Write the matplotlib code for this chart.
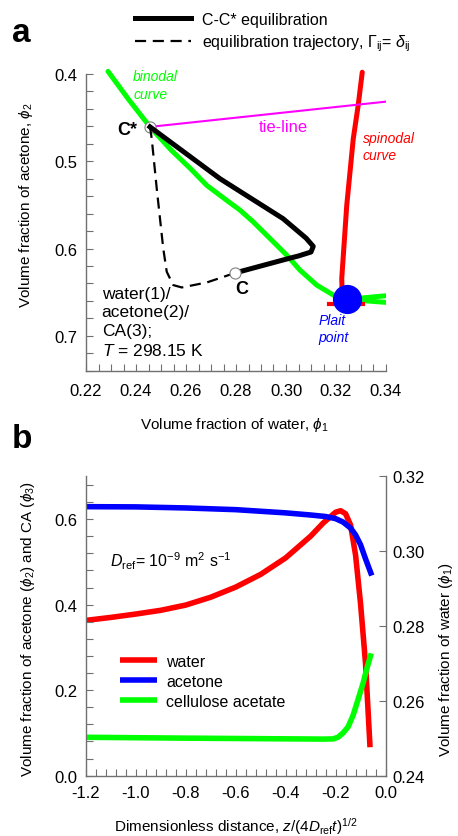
import matplotlib
matplotlib.use("Agg")
import matplotlib.pyplot as plt
from matplotlib.ticker import MultipleLocator

plt.rcParams['font.family'] = ['Liberation Sans', 'DejaVu Sans']
plt.rcParams['mathtext.fontset'] = 'custom'
plt.rcParams['mathtext.rm'] = 'Liberation Sans'
plt.rcParams['mathtext.it'] = 'Liberation Sans:italic'
plt.rcParams['mathtext.bf'] = 'Liberation Sans:bold'

# ---------------- panel a: ternary phase diagram (water / acetone) ----------------
binodal_x = [0.2288, 0.2369, 0.2456, 0.2540, 0.2620, 0.2683, 0.2763, 0.2816,
             0.2869, 0.2923, 0.3003, 0.3056, 0.3123, 0.3189, 0.3243]
binodal_y = [0.397, 0.4286, 0.4606, 0.4870, 0.5090, 0.5276, 0.5448, 0.5560,
             0.5695, 0.5848, 0.6076, 0.6248, 0.6419, 0.6533, 0.6583]
binodal_up_x = [0.3243, 0.3400]
binodal_up_y = [0.6583, 0.6541]
binodal_lo_x = [0.3243, 0.3400]
binodal_lo_y = [0.6583, 0.6617]

spinodal_x = [0.3305, 0.3289, 0.3269, 0.3243, 0.3223, 0.3225]
spinodal_y = [0.398, 0.4354, 0.4743, 0.5505, 0.6343, 0.6560]
spinodal_foot_x = [0.3172, 0.3308]
spinodal_foot_y = [0.6640, 0.6640]

tieline_x = [0.2456, 0.3399]
tieline_y = [0.4606, 0.4317]

equil_x = [0.2456, 0.2736, 0.2988, 0.3080, 0.3109, 0.3100, 0.3050, 0.3016, 0.2796]
equil_y = [0.4606, 0.5200, 0.5657, 0.5880, 0.5975, 0.6040, 0.6085, 0.6110, 0.6280]

traj_x = [0.2456, 0.2463, 0.2483, 0.2509, 0.2523, 0.2549, 0.2583, 0.2683, 0.2796]
traj_y = [0.4606, 0.4743, 0.5314, 0.6000, 0.6267, 0.6419, 0.6446, 0.6389, 0.6280]

c_star = (0.2456, 0.4606)
c_point = (0.2796, 0.6280)
plait = (0.3243, 0.6583)

# ---------------- panel b: composition profiles ----------------
water_z = [-1.2, -1.1, -1.0, -0.9, -0.8, -0.7, -0.6, -0.5, -0.4, -0.3, -0.25,
           -0.2, -0.18, -0.16, -0.14, -0.12, -0.10, -0.08, -0.062]
water_phi = [0.2815, 0.2823, 0.2832, 0.2842, 0.2856, 0.2877, 0.2904, 0.2938,
             0.2982, 0.3040, 0.3075, 0.3104, 0.3108, 0.3100, 0.3070, 0.2990,
             0.2860, 0.2700, 0.2476]

acetone_z = [-1.2, -1.0, -0.8, -0.6, -0.4, -0.3, -0.24, -0.2, -0.17, -0.14,
             -0.12, -0.10, -0.08, -0.055]
acetone_phi = [0.629, 0.6285, 0.626, 0.622, 0.6145, 0.6095, 0.606, 0.601,
               0.593, 0.579, 0.563, 0.540, 0.507, 0.468]

ca_z = [-1.2, -0.8, -0.4, -0.25, -0.21, -0.19, -0.17, -0.15, -0.13, -0.11,
        -0.09, -0.075, -0.057]
ca_phi = [0.0898, 0.0878, 0.0862, 0.0856, 0.0860, 0.0900, 0.1000, 0.1140,
          0.1410, 0.1780, 0.2160, 0.2500, 0.2860]

GREEN = '#00ff00'
RED = '#ff0000'
BLUE = '#0000ff'
MAGENTA = '#ff00ff'
SPINE = '#707070'

fig = plt.figure(figsize=(4.58, 8.37), dpi=100)
W, H = 458.0, 837.0
ax_a = fig.add_axes([86 / W, 1 - 371.7 / H, 300 / W, 296.7 / H])
ax_b = fig.add_axes([86 / W, 1 - 776.7 / H, 299.5 / W, 299.4 / H])


def style_axis(ax):
    for side in ('top', 'right'):
        ax.spines[side].set_visible(False)
    for side in ('left', 'bottom'):
        ax.spines[side].set_color(SPINE)
        ax.spines[side].set_linewidth(1.0)
    ax.tick_params(which='both', direction='in', length=5, width=0.8,
                   color=SPINE, labelsize=12)


# ---- panel a ----
ax = ax_a
ax.plot(binodal_x, binodal_y, color=GREEN, lw=3.6, solid_capstyle='round', zorder=2,
        clip_on=False)
ax.plot(binodal_up_x, binodal_up_y, color=GREEN, lw=3.6, solid_capstyle='round', zorder=2)
ax.plot(binodal_lo_x, binodal_lo_y, color=GREEN, lw=3.6, solid_capstyle='round', zorder=2)
ax.plot(spinodal_x, spinodal_y, color=RED, lw=3.6, solid_capstyle='round', zorder=2,
        clip_on=False)
ax.plot(spinodal_foot_x, spinodal_foot_y, color=RED, lw=3.0, zorder=2)
ax.plot(tieline_x, tieline_y, color=MAGENTA, lw=1.5, zorder=3)
ax.plot([c_star[0]], [c_star[1]], 'o', ms=8, mfc='white', mec='#808080', mew=0.8, zorder=3)
h_equil, = ax.plot(equil_x, equil_y, color='black', lw=3.6, solid_joinstyle='round',
                   zorder=4, label='C-C* equilibration')
h_traj, = ax.plot(traj_x, traj_y, color='black', lw=1.6, ls=(0, (5, 3)), zorder=4,
                  label=r'equilibration trajectory, $\Gamma_{\rm ij}$= $\delta_{\rm ij}$')
ax.plot([c_point[0]], [c_point[1]], 'o', ms=8, mfc='white', mec='#808080', mew=0.8, zorder=5)
ax.plot([plait[0]], [plait[1]], 'o', ms=20, color=BLUE, zorder=6)

ax.set_xlim(0.22, 0.34)
ax.set_ylim(0.74, 0.40)
ax.xaxis.set_major_locator(MultipleLocator(0.02))
ax.xaxis.set_minor_locator(MultipleLocator(0.005))
ax.yaxis.set_major_locator(MultipleLocator(0.1))
ax.yaxis.set_minor_locator(MultipleLocator(0.02))
ax.xaxis.set_major_formatter(lambda v, p: f'{v:.2f}')
ax.yaxis.set_major_formatter(lambda v, p: f'{v:.1f}')
style_axis(ax)
ax.tick_params(axis='x', pad=8.5)
ax.tick_params(axis='y', pad=6.0)

ax.set_xlabel(r'Volume fraction of water, $\phi_1$', fontsize=11)
ax.xaxis.label.set_va('center')
ax.xaxis.set_label_coords(0.493, -0.178)
ax.set_ylabel(r'Volume fraction of acetone, $\phi_2$', fontsize=11)
ax.yaxis.label.set_va('center')
ax.yaxis.set_label_coords(-0.20, 0.562)

ax.text(0.2389, 0.4125, 'binodal\ncurve', color=GREEN, style='italic', fontsize=10,
        ha='left', va='center', linespacing=1.3)
ax.text(0.2988, 0.4606, 'tie-line', color=MAGENTA, fontsize=12, ha='center', va='center')
ax.text(0.3306, 0.4832, 'spinodal\ncurve', color=RED, style='italic', fontsize=10,
        ha='left', va='center', linespacing=1.3)
ax.text(0.3129, 0.6920, 'Plait\npoint', color=BLUE, style='italic', fontsize=10,
        ha='left', va='center', linespacing=1.3)
ax.text(0.2404, 0.4640, 'C*', fontsize=13, fontweight='bold', ha='right', va='center')
ax.text(0.2823, 0.6453, 'C', fontsize=13, fontweight='bold', ha='center', va='center')
ax.text(0.2263, 0.6425, 'water(1)/\nacetone(2)/\nCA(3);\n$T$ = 298.15 K', fontsize=12.5,
        ha='left', va='top', linespacing=1.32)

fig.legend(handles=[h_equil, h_traj], loc='upper left',
           bbox_to_anchor=(135 / W, 1 - 13 / H), bbox_transform=fig.transFigure,
           frameon=False, fontsize=11.5, handlelength=3.5, handletextpad=0.7,
           labelspacing=0.35, borderpad=0, borderaxespad=0)

fig.text(12 / W, 1 - 34 / H, 'a', fontsize=24, fontweight='bold', ha='left', va='center')
fig.text(12 / W, 1 - 440 / H, 'b', fontsize=24, fontweight='bold', ha='left', va='center')

# ---- panel b ----
ax2 = ax_b.twinx()
ax_b.set_zorder(ax2.get_zorder() + 1)
ax_b.patch.set_visible(False)

h_water, = ax2.plot(water_z, water_phi, color=RED, lw=4, solid_capstyle='butt',
                    solid_joinstyle='round', label='water')
h_acet, = ax_b.plot(acetone_z, acetone_phi, color=BLUE, lw=4, solid_capstyle='butt',
                    solid_joinstyle='round', label='acetone')
h_ca, = ax_b.plot(ca_z, ca_phi, color=GREEN, lw=4, solid_capstyle='butt',
                  solid_joinstyle='round', label='cellulose acetate')

ax_b.set_xlim(-1.2, 0.0)
ax_b.set_ylim(0.0, 0.7)
ax2.set_ylim(0.24, 0.32)
ax_b.xaxis.set_major_locator(MultipleLocator(0.2))
ax_b.xaxis.set_minor_locator(MultipleLocator(0.04))
ax_b.yaxis.set_major_locator(MultipleLocator(0.2))
ax_b.yaxis.set_minor_locator(MultipleLocator(0.04))
ax_b.xaxis.set_major_formatter(lambda v, p: f'{v:.1f}'.replace('-0.0', '0.0'))
ax_b.yaxis.set_major_formatter(lambda v, p: f'{v:.1f}')
ax2.yaxis.set_major_locator(MultipleLocator(0.02))
ax2.yaxis.set_major_formatter(lambda v, p: f'{v:.2f}')
style_axis(ax_b)
ax_b.tick_params(axis='x', pad=7.0)
ax_b.tick_params(axis='y', pad=6.0)
for side in ('top', 'left', 'bottom'):
    ax2.spines[side].set_visible(False)
ax2.spines['right'].set_color(SPINE)
ax2.spines['right'].set_linewidth(1.0)
ax2.tick_params(axis='y', which='both', direction='in', length=5, width=0.8,
                color=SPINE, labelsize=12, pad=5.0)

ax_b.set_xlabel(r'Dimensionless distance, $z$/(4$D_{\rm ref}t$)$^{1/2}$', fontsize=11)
ax_b.xaxis.label.set_va('center')
ax_b.xaxis.set_label_coords(0.5, -0.165)
ax_b.set_ylabel(r'Volume fraction of acetone ($\phi_2$) and CA ($\phi_3$)', fontsize=11)
ax_b.yaxis.label.set_va('center')
ax_b.yaxis.set_label_coords(-0.194, 0.494)
ax2.set_ylabel(r'Volume fraction of water ($\phi_1$)', fontsize=11, rotation=90)
ax2.yaxis.label.set_va('center')
ax2.yaxis.set_label_coords(1.203, 0.39)

ax_b.text(-1.104, 0.504, r'$D_{\rm ref}$= 10$^{-9}$ m$^2$ s$^{-1}$', fontsize=11.5,
          ha='left', va='center')

ax_b.legend(handles=[h_water, h_acet, h_ca], loc='upper left',
            bbox_to_anchor=(120 / W, 1 - 655 / H), bbox_transform=fig.transFigure,
            frameon=False, fontsize=11.5, handlelength=2.3, handletextpad=0.6,
            labelspacing=0.3, borderpad=0, borderaxespad=0)

fig.savefig('out.png', dpi=100)
